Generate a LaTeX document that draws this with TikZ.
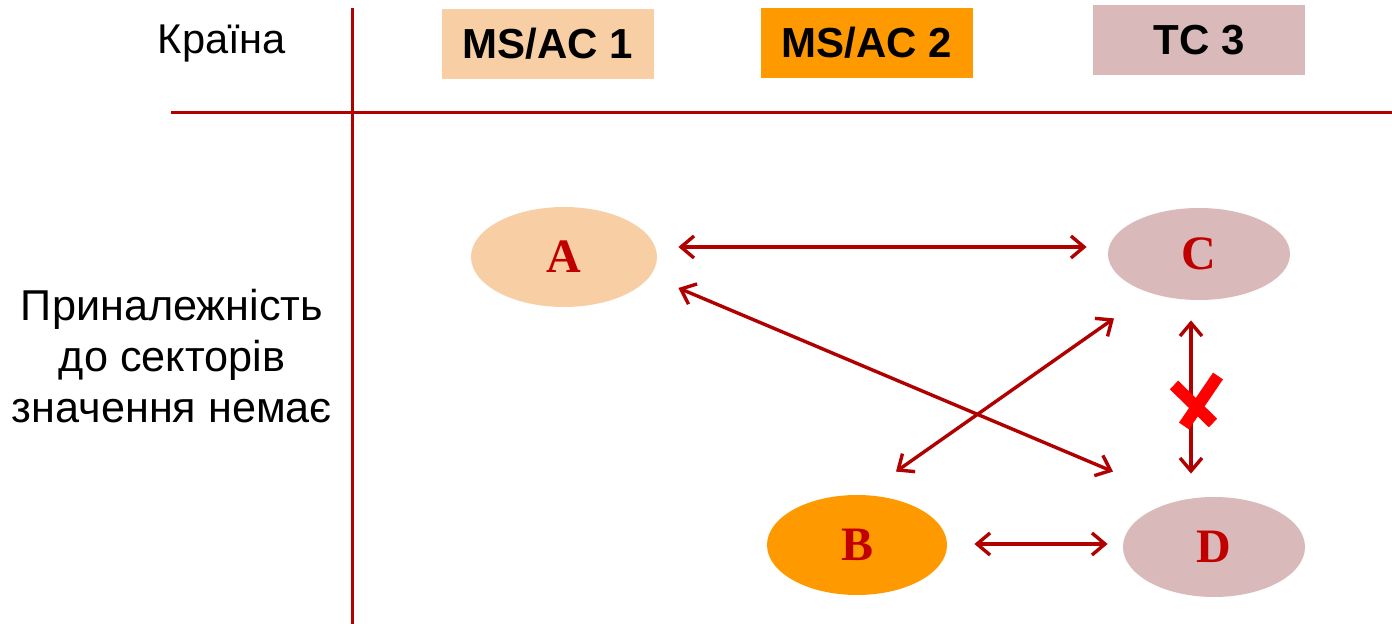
\documentclass[tikz,border=0pt]{standalone}
\usepackage{fontspec}
\setmainfont{Liberation Sans}
\newfontfamily\letterfont{Liberation Serif}
\usepackage{tikz}
\usetikzlibrary{arrows.meta,calc,shapes.geometric}
\definecolor{linered}{RGB}{176,0,0}
\definecolor{lettered}{RGB}{192,0,0}
\definecolor{peach}{RGB}{248,207,164}
\definecolor{amber}{RGB}{255,153,0}
\definecolor{rosegrey}{RGB}{217,185,185}
\tikzset{%
  every country/.style={
    rectangle,
    inner sep=0pt,
    minimum width=106pt,
    minimum height=35pt,
    font=\fontsize{21}{24}\selectfont\bfseries
  },
  every member/.style={
    ellipse,
    inner sep=0pt,
    minimum width=91pt,
    minimum height=50pt,
    text=lettered,
    font=\fontsize{24}{28}\letterfont\bfseries
  },
  biarrow/.style={
    draw=linered,
    line width=1.7pt,
    {Straight Barb[length=6.5pt,width=11pt]}-{Straight Barb[length=6.5pt,width=11pt]}
  },
  crossmark/.style={
    draw=red,
    line width=6pt
  },
}

\begin{document}
\begin{tikzpicture}[x=0.5pt, y=-0.5pt]
        \useasboundingbox (0,0) rectangle (1392,624);

        % table lines
        \draw [linered, line width=1.5pt] (352,8) -- (352,624);
        \draw [linered, line width=1.5pt] (171,113) -- (1392,113);

        \node [font=\fontsize{20.8}{24}\selectfont] (country) at (222,44) {Країна};
        \node [align=center, font=\fontsize{21.6}{25.5}\selectfont] (sector) at (172,356)
          {Приналежність\\до секторів\\значення немає};

        \foreach \n/\t/\c/\x/\y in {ms1/MS\slash AC 1/peach/548/44, ms2/MS\slash AC 2/amber/867/43, tc3/TC 3/rosegrey/1199/40}
          \node [every country, fill=\c] (\n) at (\x,\y) {\t};

        \node [every member, fill=peach, minimum width=93pt] (A) at (564,257) {A};
        \node [every member, fill=rosegrey, minimum height=46pt] (C) at (1199,254) {C};
        \node [every member, fill=amber, minimum width=90pt] (B) at (857,545) {B};
        \node [every member, fill=rosegrey] (D) at (1214,547) {D};

        \draw [biarrow] ($(A.east)+(21,-10)$) -- ($(C.west)+(-21,-7)$);
        \draw [biarrow] ($(A.east)+(21,31)$) -- ($(D.north)+(-101,-25)$);
        \draw [biarrow] ($(B.north)+(39,-23)$) -- ($(C.south)+(-85,18)$);
        \draw [biarrow] ($(C.south)+(-8,20)$) -- ($(D.north)+(-23,-23)$);
        \draw [biarrow] ($(B.east)+(27,-1)$) -- ($(D.west)+(-15,-3)$);

        % no link between C and D
        \coordinate (cut) at (1195,405);
        \draw [crossmark] ($(cut)+(-21,-20)$) -- ($(cut)+(18,18)$);
        \draw [crossmark] ($(cut)+(23,-29)$) -- ($(cut)+(-11,21)$);
\end{tikzpicture}
\end{document}
